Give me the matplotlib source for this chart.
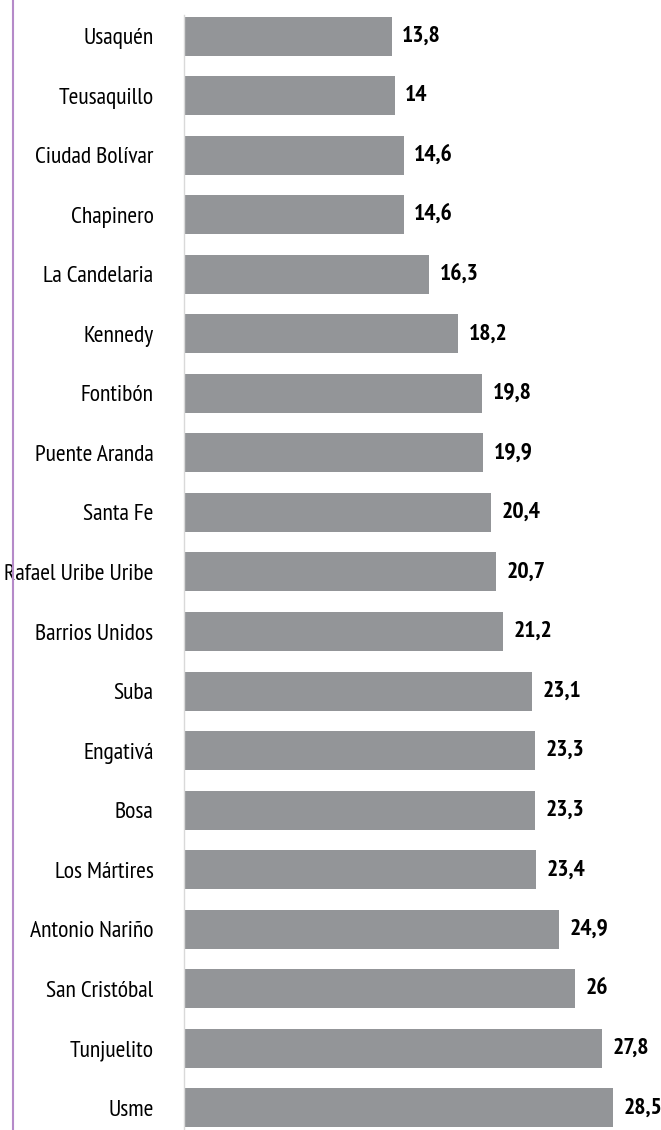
import matplotlib
matplotlib.use("Agg")
import matplotlib.pyplot as plt
from matplotlib import font_manager

localidades = ["Usaquén", "Teusaquillo", "Ciudad Bolívar", "Chapinero", "La Candelaria",
               "Kennedy", "Fontibón", "Puente Aranda", "Santa Fe", "Rafael Uribe Uribe",
               "Barrios Unidos", "Suba", "Engativá", "Bosa", "Los Mártires",
               "Antonio Nariño", "San Cristóbal", "Tunjuelito", "Usme"]
valores = [13.8, 14, 14.6, 14.6, 16.3, 18.2, 19.8, 19.9, 20.4, 20.7,
           21.2, 23.1, 23.3, 23.3, 23.4, 24.9, 26, 27.8, 28.5]

names = {f.name for f in font_manager.fontManager.ttflist}
prefs = ["PT Sans Narrow", "Fira Sans Condensed", "Roboto Condensed", "Archivo Narrow",
         "Asap Condensed", "Encode Sans Condensed", "IBM Plex Sans Condensed",
         "Open Sans Condensed", "Liberation Sans Narrow"]
fam = next((p for p in prefs if p in names), None)
if fam is None:
    fam = "DejaVu Sans"
    fs, fsv = 11.5, 11.5
else:
    fs, fsv = 17, 17

W, H = 661, 1130
fig = plt.figure(figsize=(W / 100, H / 100), dpi=100)
ax = fig.add_axes([184 / W, 0, 1 - 184 / W, 1 - 15 / H])

y = list(range(len(valores)))
ax.barh(y, valores, height=0.655, color="#939598", edgecolor="none")
ax.set_xlim(0, (W - 184) / 15.05)
ax.set_ylim(18.37, -0.353)

for yi, v in zip(y, valores):
    txt = f"{v:g}".replace(".", ",")
    ax.text(v + 0.7, yi, txt, va="center", ha="left", fontsize=fsv,
            fontweight="bold", family=fam, color="black")

ax.set_yticks(y)
ax.set_yticklabels(localidades, fontsize=fs, family=fam)
ax.tick_params(axis="y", length=0, pad=22)
ax.set_xticks([])
for s in ["top", "right", "bottom"]:
    ax.spines[s].set_visible(False)
ax.spines["left"].set_color("#d9d9d9")
ax.spines["left"].set_linewidth(1)

fig.add_artist(plt.Line2D([12.5 / W, 12.5 / W], [0, 1], color="#b58ac9", lw=1.5,
                          transform=fig.transFigure))

fig.savefig("out.png", dpi=100)
